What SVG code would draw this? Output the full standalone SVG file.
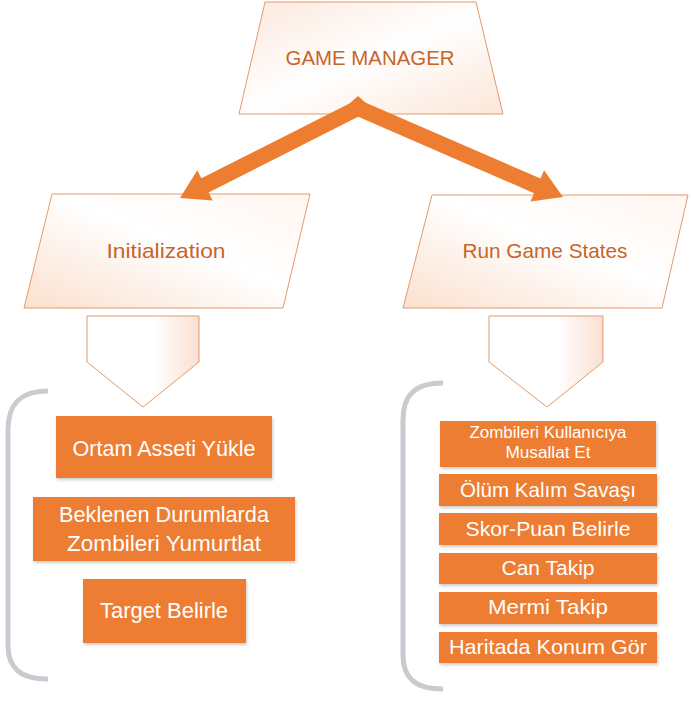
<svg xmlns="http://www.w3.org/2000/svg" width="691" height="701" viewBox="0 0 691 701">
<defs>
<linearGradient id="gShape" x1="0" y1="1" x2="1" y2="0">
<stop offset="0" stop-color="#FBE0CE"/>
<stop offset="0.55" stop-color="#FFFFFF"/>
<stop offset="1" stop-color="#FFF6F0"/>
</linearGradient>
<linearGradient id="gTop" x1="0" y1="0" x2="1" y2="1">
<stop offset="0" stop-color="#FCE8DC"/>
<stop offset="0.5" stop-color="#FFFFFF"/>
<stop offset="1" stop-color="#FCE6D8"/>
</linearGradient>
<linearGradient id="gChev" x1="0" y1="0" x2="1" y2="0">
<stop offset="0" stop-color="#FFFFFF"/>
<stop offset="0.6" stop-color="#FFFFFF"/>
<stop offset="1" stop-color="#FAE0D2"/>
</linearGradient>
<filter id="sh" x="-10%" y="-10%" width="130%" height="140%">
<feDropShadow dx="1" dy="2" stdDeviation="1.5" flood-color="#000" flood-opacity="0.2"/>
</filter>
</defs>
<style>
.shape{stroke:#E39A6A;stroke-width:1}
.ttl{font-family:"Liberation Sans",Arial,sans-serif;font-size:21px;fill:#C8642A;text-anchor:middle}
.box{fill:#ED7D31;filter:url(#sh)}
.bt{font-family:"Liberation Sans",Arial,sans-serif;fill:#FFFFFF;text-anchor:middle}
.brk{fill:none;stroke:#C8CCD1;stroke-width:5;stroke-linecap:butt}
.arr{fill:#ED7D31}
</style>

<g id="game-manager">
<polygon class="shape" points="265,2 476,2 503,114 239,114" fill="url(#gTop)"/>
<text class="ttl" x="370" y="65" textLength="169" lengthAdjust="spacingAndGlyphs">GAME MANAGER</text>
</g>

<g id="initialization">
<polygon class="shape" points="52,194 310,194 283,308 24,308" fill="url(#gShape)"/>
<text class="ttl" x="166" y="258" textLength="119" lengthAdjust="spacingAndGlyphs">Initialization</text>
</g>

<g id="run-game-states">
<polygon class="shape" points="432,195 688,195 662,308 403,308" fill="url(#gShape)"/>
<text class="ttl" x="545" y="258" textLength="165" lengthAdjust="spacingAndGlyphs">Run Game States</text>
</g>

<g id="connectors">
<polygon class="arr" points="354.4,100.9 361.6,115.1 208.6,192.5 212.7,200.5 180,198 197.3,170.2 201.4,178.3"/>
<polygon class="arr" points="361.2,100.7 354.8,115.3 534.1,193.2 530.5,201.5 563,197 544.1,170.3 540.5,178.6"/>
<polygon class="arr" points="349,104 358,96 367,104 367,115 349,115"/>
<polygon class="shape" points="87,316 199,316 199,362 143,407 87,362" fill="url(#gChev)"/>
<polygon class="shape" points="489,316 603,316 603,362 547,407 489,362" fill="url(#gChev)"/>
<path class="brk" d="M48,391 C20,391 8,404 8,430 L8,645 C8,668 20,679 48,679"/>
<path class="brk" d="M443,383 C415,383 403,395 403,420 L403,655 C403,678 415,689 443,689"/>
</g>

<g id="ortam-asseti">
<rect class="box" x="56" y="416" width="216" height="62"/>
<text class="bt" x="164" y="456" font-size="22" textLength="183" lengthAdjust="spacingAndGlyphs">Ortam Asseti Yükle</text>
</g>

<g id="beklenen-durumlarda">
<rect class="box" x="33" y="497" width="262" height="64"/>
<text class="bt" x="164" y="522" font-size="22" textLength="210" lengthAdjust="spacingAndGlyphs">Beklenen Durumlarda</text>
<text class="bt" x="164" y="551" font-size="22" textLength="194" lengthAdjust="spacingAndGlyphs">Zombileri Yumurtlat</text>
</g>

<g id="target-belirle">
<rect class="box" x="83" y="579" width="163" height="64"/>
<text class="bt" x="164" y="618" font-size="22" textLength="128" lengthAdjust="spacingAndGlyphs">Target Belirle</text>
</g>

<g id="zombileri-kullaniciya">
<rect class="box" x="440" y="421" width="216" height="46"/>
<text class="bt" x="548" y="438" font-size="16" textLength="157" lengthAdjust="spacingAndGlyphs">Zombileri Kullanıcıya</text>
<text class="bt" x="548" y="458" font-size="16" textLength="85" lengthAdjust="spacingAndGlyphs">Musallat Et</text>
</g>

<g id="olum-kalim">
<rect class="box" x="439" y="474" width="218" height="32"/>
<text class="bt" x="548" y="497" font-size="21" textLength="176" lengthAdjust="spacingAndGlyphs">Ölüm Kalım Savaşı</text>
</g>

<g id="skor-puan">
<rect class="box" x="439" y="513" width="218" height="32"/>
<text class="bt" x="548" y="536" font-size="21" textLength="165" lengthAdjust="spacingAndGlyphs">Skor-Puan Belirle</text>
</g>

<g id="can-takip">
<rect class="box" x="439" y="553" width="218" height="31"/>
<text class="bt" x="548" y="575" font-size="21" textLength="93" lengthAdjust="spacingAndGlyphs">Can Takip</text>
</g>

<g id="mermi-takip">
<rect class="box" x="439" y="592" width="218" height="32"/>
<text class="bt" x="548" y="614" font-size="21" textLength="120" lengthAdjust="spacingAndGlyphs">Mermi Takip</text>
</g>

<g id="haritada-konum">
<rect class="box" x="439" y="632" width="218" height="31"/>
<text class="bt" x="548" y="654" font-size="21" textLength="198" lengthAdjust="spacingAndGlyphs">Haritada Konum Gör</text>
</g>
</svg>
